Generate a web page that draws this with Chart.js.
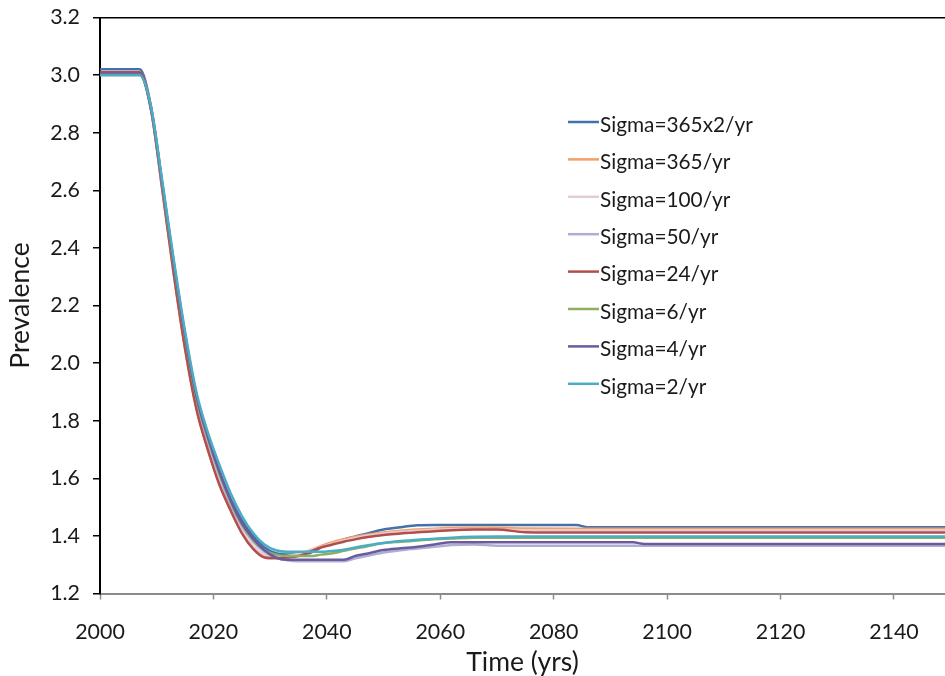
<!DOCTYPE html>
<html lang="en">
  <head>
    <meta charset="UTF-8" />
    <meta name="viewport" content="width=device-width, initial-scale=1.0" />
    <script src="https://cdn.jsdelivr.net/npm/chart.js@4.4.0/dist/chart.umd.min.js"></script>
    <title>Prevalence over time</title>
    <style>
      html,
      body {
        margin: 0;
        padding: 0;
        background-color: rgb(255, 255, 255);
        overflow: hidden;
      }

      canvas {
        display: block;
      }
    </style>
  </head>
  <body>
    <canvas id="myChart" width="945" height="676"></canvas>
    <script>
      // years shared by every series
      const years = [2000, 2007, 2009, 2011, 2013, 2015, 2017, 2019, 2021, 2023, 2025, 2027, 2029, 2031, 2033, 2035, 2037,
        2039, 2041, 2043, 2045, 2047, 2050, 2053, 2056, 2059, 2062, 2066, 2070, 2075, 2084, 2086, 2094, 2096, 2150];

      const seriesNames = ["Sigma=365x2/yr", "Sigma=365/yr", "Sigma=100/yr", "Sigma=50/yr",
        "Sigma=24/yr", "Sigma=6/yr", "Sigma=4/yr", "Sigma=2/yr"];

      const sigma730 = [3.02, 3.02, 2.89, 2.62, 2.35, 2.10, 1.89, 1.75, 1.63, 1.53, 1.455, 1.40, 1.36, 1.34, 1.335, 1.335, 1.34,
        1.36, 1.375, 1.388, 1.398, 1.408, 1.422, 1.43, 1.437, 1.438, 1.438, 1.438, 1.438, 1.438, 1.438, 1.43, 1.43, 1.43, 1.43];
      const sigma365 = [3.01, 3.01, 2.88, 2.60, 2.31, 2.05, 1.845, 1.70, 1.585, 1.49, 1.415, 1.36, 1.33, 1.325, 1.328, 1.335, 1.35,
        1.365, 1.378, 1.388, 1.397, 1.404, 1.412, 1.418, 1.422, 1.425, 1.427, 1.428, 1.428, 1.426, 1.425, 1.425, 1.425, 1.425, 1.425];
      const sigma100 = [3.005, 3.005, 2.88, 2.60, 2.32, 2.06, 1.85, 1.71, 1.59, 1.50, 1.42, 1.365, 1.335, 1.327, 1.33, 1.337, 1.35,
        1.362, 1.374, 1.384, 1.393, 1.40, 1.408, 1.414, 1.418, 1.421, 1.423, 1.424, 1.423, 1.42, 1.42, 1.42, 1.42, 1.42, 1.42];
      const sigma50 = [3.0, 3.0, 2.88, 2.61, 2.33, 2.08, 1.87, 1.73, 1.61, 1.51, 1.435, 1.38, 1.345, 1.325, 1.315, 1.312, 1.312,
        1.312, 1.312, 1.312, 1.322, 1.33, 1.342, 1.35, 1.356, 1.362, 1.368, 1.37, 1.366, 1.366, 1.366, 1.366, 1.366, 1.366, 1.366];
      const sigma24 = [3.01, 3.01, 2.88, 2.60, 2.31, 2.05, 1.84, 1.70, 1.58, 1.49, 1.41, 1.355, 1.325, 1.322, 1.325, 1.33, 1.345,
        1.36, 1.37, 1.38, 1.388, 1.395, 1.403, 1.408, 1.413, 1.416, 1.42, 1.422, 1.422, 1.413, 1.412, 1.412, 1.412, 1.412, 1.412];
      const sigma6 = [3.0, 3.0, 2.885, 2.615, 2.34, 2.09, 1.88, 1.74, 1.62, 1.52, 1.44, 1.385, 1.35, 1.335, 1.33, 1.33, 1.33,
        1.335, 1.34, 1.348, 1.356, 1.363, 1.375, 1.38, 1.384, 1.388, 1.391, 1.394, 1.394, 1.394, 1.394, 1.394, 1.394, 1.394, 1.394];
      const sigma4 = [3.005, 3.005, 2.885, 2.62, 2.345, 2.095, 1.885, 1.745, 1.625, 1.525, 1.445, 1.39, 1.35, 1.325, 1.317, 1.317, 1.317,
        1.317, 1.317, 1.317, 1.33, 1.338, 1.351, 1.357, 1.362, 1.37, 1.378, 1.378, 1.378, 1.378, 1.378, 1.378, 1.378, 1.372, 1.372];
      const sigma2 = [3.0, 3.0, 2.89, 2.63, 2.36, 2.11, 1.90, 1.76, 1.65, 1.55, 1.47, 1.41, 1.37, 1.35, 1.345, 1.345, 1.345,
        1.345, 1.348, 1.352, 1.36, 1.367, 1.375, 1.382, 1.387, 1.39, 1.394, 1.397, 1.398, 1.398, 1.398, 1.398, 1.398, 1.398, 1.398];

      const yTicks = [1.2, 1.4, 1.6, 1.8, 2.0, 2.2, 2.4, 2.6, 2.8, 3.0, 3.2];
      const xTicks = [2000, 2020, 2040, 2060, 2080, 2100, 2120, 2140];

      const allSeries = [sigma730, sigma365, sigma100, sigma50, sigma24, sigma6, sigma4, sigma2];
      const colors = ["#4470ab", "#f2a066", "#e3cdd3", "#aeaed4", "#b24e4c", "#8fae5e", "#6b5b9e", "#4bacc6"];

      Chart.defaults.font.family = 'Lato, "Open Sans", sans-serif';
      Chart.defaults.color = "#1a1a1a";

      // legend drawn inside the plot, like the Excel original
      const insideLegend = {
        id: "insideLegend",
        afterDraw(chart) {
          const ctx = chart.ctx;
          ctx.save();
          ctx.font = '20.8px Lato, "Open Sans", sans-serif';
          ctx.textBaseline = "middle";
          chart.data.datasets.forEach((ds, i) => {
            const y = 122 + i * 37.4;
            ctx.strokeStyle = ds.borderColor;
            ctx.lineWidth = 2.5;
            ctx.beginPath();
            ctx.moveTo(568, y);
            ctx.lineTo(599, y);
            ctx.stroke();
            ctx.fillStyle = "#1a1a1a";
            ctx.fillText(ds.label, 600, y + 3);
          });
          ctx.restore();
        },
      };

      const datasets = allSeries.map((vals, i) => ({
        label: seriesNames[i],
        data: years.map((yr, j) => ({ x: yr, y: vals[j] })),
        borderColor: colors[i],
        backgroundColor: colors[i],
        borderWidth: 2.5,
        pointRadius: 0,
        cubicInterpolationMode: "monotone",
        order: allSeries.length - i,
      }));

      const ctx = document.getElementById("myChart").getContext("2d");
      const myChart = new Chart(ctx, {
        type: "line",
        data: { datasets: datasets },
        plugins: [insideLegend],
        options: {
          responsive: false,
          animation: false,
          layout: { padding: { top: 17.5, right: 0, bottom: 0, left: 0 } },
          plugins: {
            legend: { display: false },
            tooltip: { enabled: false },
          },
          scales: {
            x: {
              type: "linear",
              min: 2000,
              max: 2149,
              afterBuildTicks: (scale) => {
                scale.ticks = xTicks.map((v) => ({ value: v }));
              },
              afterFit: (scale) => {
                scale.height = 82.5;
                scale.paddingLeft = 0;
                scale.paddingRight = 0;
              },
              ticks: {
                font: { size: 21.4 },
                padding: 20,
                maxRotation: 0,
                callback: (v) => String(v),
              },
              border: { color: "#8c8c8c", width: 2 },
              grid: {
                drawOnChartArea: false,
                tickColor: "#8c8c8c",
                tickLength: 6,
                tickWidth: 1.5,
              },
              title: {
                display: true,
                text: "Time (yrs)",
                font: { size: 26.5, lineHeight: 1 },
                padding: { top: 0, bottom: 0 },
              },
            },
            y: {
              min: 1.2,
              max: 3.2,
              afterBuildTicks: (scale) => {
                scale.ticks = yTicks.map((v) => ({ value: v }));
              },
              afterFit: (scale) => {
                scale.width = 100;
                scale.paddingTop = 0;
                scale.paddingBottom = 0;
              },
              ticks: {
                font: { size: 21.4 },
                padding: 13,
                callback: (v) => v.toFixed(1),
              },
              border: { color: "#000", width: 2 },
              grid: {
                color: (c) => (c.tick && Math.abs(c.tick.value - 3.2) < 1e-6 ? "#000" : "rgba(0,0,0,0)"),
                lineWidth: 1.5,
                tickColor: "#000",
                tickLength: 7,
                tickWidth: 1.5,
              },
              title: {
                display: true,
                text: "Prevalence",
                font: { size: 26.5 },
                padding: { top: 5, bottom: 0 },
              },
            },
          },
        },
      });
    </script>
  </body>
</html>
